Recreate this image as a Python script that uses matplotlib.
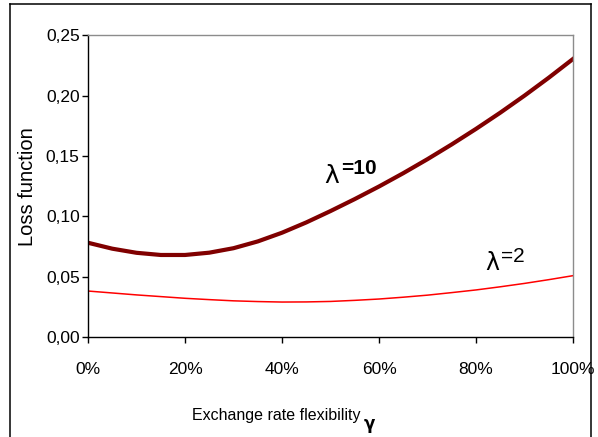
""" LOSS FUNCTION vs EXCHANGE RATE FLEXIBILITY
    ------------------------------------------
"""

import numpy as np
import matplotlib.pyplot as plt
from matplotlib.lines import Line2D
from matplotlib.ticker import FuncFormatter


# -------------------------------------------------------------------------------
# 0. DATA
# -------------------------------------------------------------------------------

flexibility = [0.00, 0.05, 0.10, 0.15, 0.20, 0.25, 0.30, 0.35, 0.40, 0.45, 0.50,
               0.55, 0.60, 0.65, 0.70, 0.75, 0.80, 0.85, 0.90, 0.95, 1.00]

loss_lambda10 = [0.0783, 0.0734, 0.0700, 0.0682, 0.0682, 0.0701, 0.0738, 0.0794,
                 0.0866, 0.0951, 0.1045, 0.1144, 0.1248, 0.1358, 0.1474, 0.1596,
                 0.1724, 0.1858, 0.1999, 0.2147, 0.2302]

loss_lambda2 = [0.0384, 0.0368, 0.0352, 0.0338, 0.0324, 0.0313, 0.0303, 0.0297,
                0.0293, 0.0294, 0.0298, 0.0307, 0.0318, 0.0333, 0.0350, 0.0371,
                0.0393, 0.0419, 0.0447, 0.0478, 0.0511]

x_ticks = [0.0, 0.2, 0.4, 0.6, 0.8, 1.0]
y_ticks = [0.00, 0.05, 0.10, 0.15, 0.20, 0.25]


# -------------------------------------------------------------------------------
# 1. FIGURE
# -------------------------------------------------------------------------------

plt.rcParams['font.family'] = ['Liberation Sans', 'DejaVu Sans']

fig = plt.figure(figsize=(5.98, 4.37), dpi=100)
ax = fig.add_axes([0.1472, 0.2277, 0.811, 0.6922])

ax.plot(flexibility, loss_lambda10, color='#800000', lw=3.0, solid_joinstyle='round')
ax.plot(flexibility, loss_lambda2, color='#ff0000', lw=1.1, solid_joinstyle='round')

ax.set_xlim(0, 1)
ax.set_ylim(0, 0.25)
ax.set_xticks(x_ticks)
ax.set_yticks(y_ticks)
ax.xaxis.set_major_formatter(FuncFormatter(lambda v, p: '%d%%' % round(v * 100)))
ax.yaxis.set_major_formatter(FuncFormatter(lambda v, p: ('%.2f' % v).replace('.', ',')))
ax.tick_params(axis='both', direction='out', length=4, width=1, labelsize=12.5, color='black')
ax.tick_params(axis='x', pad=14)
ax.tick_params(axis='y', pad=2)

for side in ['top', 'right']:
    ax.spines[side].set_color('#8c8c8c')
    ax.spines[side].set_linewidth(1.0)
for side in ['left', 'bottom']:
    ax.spines[side].set_color('black')
    ax.spines[side].set_linewidth(1.0)

ax.set_ylabel('Loss function', fontsize=14.5, labelpad=6)

# Curve labels
ax.text(0.487, 0.1277, '\u03bb', fontsize=18, family=['DejaVu Sans'], ha='left', va='baseline')
ax.text(0.522, 0.1350, '=10', fontsize=15, fontweight='bold', ha='left', va='baseline')
ax.text(0.820, 0.0558, '\u03bb', fontsize=17, family=['DejaVu Sans'], ha='left', va='baseline')
ax.text(0.851, 0.0627, '=2', fontsize=15, ha='left', va='baseline')

# X label with a dropped gamma after it
xlab = fig.text(0.462, 0.040, 'Exchange rate flexibility', fontsize=11.5, ha='center', va='baseline')
ax.annotate('\u03b3', xy=(1, 0), xycoords=xlab, xytext=(2, -5), textcoords='offset points',
            fontsize=12, fontweight='bold', family=['DejaVu Sans'], ha='left', va='baseline')

# Outer frame (open at the bottom)
x0, x1, y_top = 9.5 / 598, 591 / 598, 1 - 4 / 437
for xs, ys in [([x0, x0], [0, y_top]), ([x0, x1], [y_top, y_top]), ([x1, x1], [y_top, 0])]:
    fig.add_artist(Line2D(xs, ys, color='black', lw=1.1, transform=fig.transFigure))

plt.savefig('out.png', dpi=100)
